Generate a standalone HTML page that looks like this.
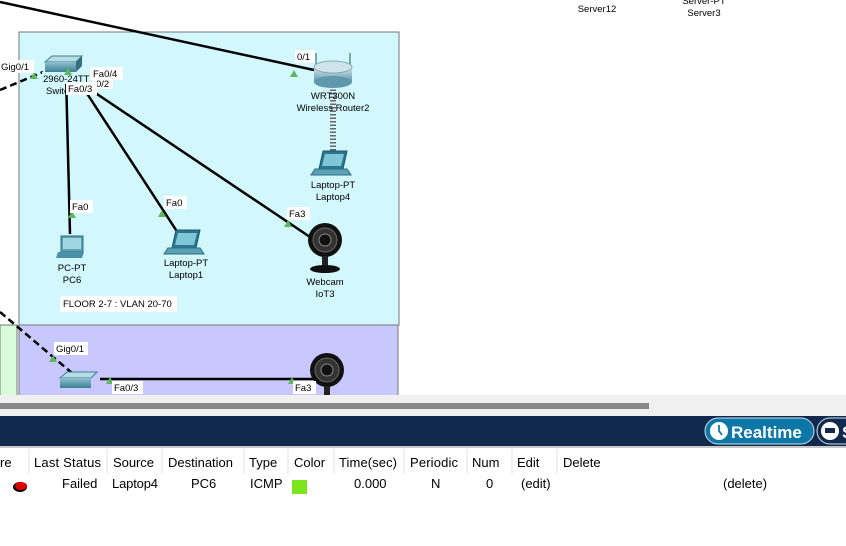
<!DOCTYPE html>
<html><head><meta charset="utf-8"><style>
html,body{margin:0;padding:0;width:846px;height:546px;overflow:hidden;background:#fff;font-family:"Liberation Sans",sans-serif;}
svg text{font-family:"Liberation Sans",sans-serif;}
</style></head><body>
<svg width="846" height="546" viewBox="0 0 846 546" xmlns="http://www.w3.org/2000/svg">
<defs>
<linearGradient id="sw" x1="0" y1="0" x2="0" y2="1"><stop offset="0" stop-color="#8fc2d0"/><stop offset="1" stop-color="#3d7f92"/></linearGradient>
<linearGradient id="rt" x1="0" y1="0" x2="0" y2="1"><stop offset="0" stop-color="#d6e8ee"/><stop offset="1" stop-color="#5e98aa"/></linearGradient>
<g id="cam"><circle cx="0" cy="0" r="17" fill="#111"/><circle cx="0" cy="0" r="12" fill="#333" stroke="#666"/><circle cx="0" cy="0" r="6" fill="#111" stroke="#888"/><rect x="-3" y="16" width="6" height="10" fill="#222"/><ellipse cx="0" cy="29" rx="15" ry="4" fill="#111"/></g>
<g id="lap"><path d="M6,0 H30 L26,18 H2 Z" fill="#2a7890" stroke="#1d5566"/><path d="M8,3 H27 L24,15 H5 Z" fill="#7fc6d8"/><path d="M-2,18 H30 L34,24 H-6 Z" fill="#5aa3b7" stroke="#2f6b7c"/></g>
</defs>
<rect x="19" y="32" width="380" height="293" fill="#d2f7fd" stroke="#777"/>
<rect x="19" y="325" width="379" height="75" fill="#c8c8fe" stroke="#777"/>
<rect x="0" y="325" width="17" height="75" fill="#d9fbd9" stroke="#777"/>
<text x="597" y="12" font-size="9.5" text-anchor="middle">Server12</text>
<text x="704" y="4" font-size="9.5" text-anchor="middle">Server-PT</text>
<text x="704" y="16" font-size="9.5" text-anchor="middle">Server3</text>
<g stroke="#000" stroke-width="2.5" fill="none">
<line x1="0" y1="2" x2="314" y2="70"/>
<line x1="0" y1="90" x2="43" y2="72" stroke-dasharray="7,4"/>
<line x1="66" y1="74" x2="70" y2="234"/>
<line x1="86" y1="92" x2="178" y2="233"/>
<line x1="94" y1="92" x2="310" y2="237"/>
<line x1="0" y1="312" x2="72" y2="373" stroke-dasharray="7,4"/>
<line x1="100" y1="379" x2="318" y2="379"/>
</g>
<line x1="333" y1="86" x2="333" y2="152" stroke="#666" stroke-width="6" stroke-dasharray="1.5,2"/>
<path d="M45,62 L52,56 H82 L76,62 Z" fill="#b6dde6" stroke="#3d7f92"/>
<rect x="45" y="62" width="31" height="10" fill="url(#sw)"/>
<path d="M76,62 L82,56 V66 L76,72 Z" fill="#356f80"/>
<line x1="316" y1="53" x2="316" y2="72" stroke="#7aa" stroke-width="2"/>
<line x1="350" y1="53" x2="350" y2="72" stroke="#7aa" stroke-width="2"/>
<rect x="314" y="67" width="38" height="15" fill="url(#rt)"/>
<ellipse cx="333" cy="82" rx="19" ry="6" fill="#5e98aa"/>
<ellipse cx="333" cy="67" rx="19" ry="6" fill="#cfe4ea" stroke="#8ab"/>
<text x="333" y="99" font-size="9.5" text-anchor="middle">WRT300N</text>
<text x="333" y="111" font-size="9.5" text-anchor="middle">Wireless Router2</text>
<use href="#lap" x="317" y="151"/>
<text x="333" y="188" font-size="9.5" text-anchor="middle">Laptop-PT</text>
<text x="333" y="200" font-size="9.5" text-anchor="middle">Laptop4</text>
<rect x="61" y="236" width="22" height="16" fill="#5aa3b7" stroke="#2f6b7c"/>
<rect x="63" y="238" width="18" height="11" fill="#9fd6e2"/>
<path d="M58,252 H84 L82,258 H56 Z" fill="#4a91a5"/>
<text x="72" y="271" font-size="9.5" text-anchor="middle">PC-PT</text>
<text x="72" y="283" font-size="9.5" text-anchor="middle">PC6</text>
<use href="#lap" x="170" y="230"/>
<text x="186" y="266" font-size="9.5" text-anchor="middle">Laptop-PT</text>
<text x="186" y="278" font-size="9.5" text-anchor="middle">Laptop1</text>
<use href="#cam" x="325" y="240"/>
<text x="325" y="285" font-size="9.5" text-anchor="middle">Webcam</text>
<text x="325" y="297" font-size="9.5" text-anchor="middle">IoT3</text>
<rect x="60" y="296" width="117" height="16" fill="#fff"/>
<text x="63" y="307" font-size="9.5">FLOOR 2-7 : VLAN 20-70</text>
<path d="M60,378 L67,372 H97 L91,378 Z" fill="#b6dde6" stroke="#3d7f92"/>
<rect x="60" y="378" width="31" height="10" fill="url(#sw)"/>
<use href="#cam" x="327" y="370"/>
<rect x="42" y="72" width="44" height="12" fill="#d2f7fd"/>
<text x="43" y="82" font-size="9.5">2960-24TT</text>
<text x="46" y="94" font-size="9.5">Switch</text>
<g fill="#5cb85c">
<path d="M30,79 l4,-7 l4,7z"/><path d="M64,75 l4,-7 l4,7z"/><path d="M290,77 l4,-7 l4,7z"/>
<path d="M68,218 l4,-7 l4,7z"/><path d="M158,217 l4,-7 l4,7z"/><path d="M284,227 l4,-7 l4,7z"/>
<path d="M49,362 l4,-7 l4,7z"/><path d="M106,384 l4,-7 l4,7z"/><path d="M288,384 l4,-7 l4,7z"/>
</g>
<g font-size="9.5">
<rect x="0" y="60" width="34" height="13" fill="#fff"/><text x="1" y="70">Gig0/1</text>
<rect x="93" y="78" width="20" height="11" fill="#fff"/><text x="96" y="87">0/2</text>
<rect x="90" y="67" width="33" height="13" fill="#fff"/><text x="93" y="77">Fa0/4</text>
<rect x="66" y="82" width="31" height="13" fill="#fff"/><text x="68" y="92">Fa0/3</text>
<rect x="295" y="50" width="20" height="13" fill="#fff"/><text x="297" y="60">0/1</text>
<rect x="70" y="200" width="23" height="13" fill="#fff"/><text x="72" y="210">Fa0</text>
<rect x="164" y="196" width="23" height="13" fill="#fff"/><text x="166" y="206">Fa0</text>
<rect x="287" y="207" width="23" height="13" fill="#fff"/><text x="289" y="217">Fa3</text>
<rect x="54" y="342" width="34" height="13" fill="#fff"/><text x="56" y="352">Gig0/1</text>
<rect x="112" y="381" width="31" height="13" fill="#fff"/><text x="114" y="391">Fa0/3</text>
<rect x="293" y="381" width="23" height="13" fill="#fff"/><text x="295" y="391">Fa3</text>
</g>
<rect x="0" y="395" width="846" height="21" fill="#f0f0f0"/>
<rect x="0" y="403" width="649" height="6" fill="#888"/>
<rect x="0" y="416" width="846" height="30" fill="#10294c"/>
<rect x="0" y="446" width="846" height="2" fill="#c8c8c8"/>
<rect x="705" y="418" width="109" height="26" rx="13" fill="#0d78a8" stroke="#cfe4ee"/>
<circle cx="719" cy="431" r="9" fill="#fff"/><path d="M719,425 V431 L722,435" stroke="#0d78a8" stroke-width="1.8" fill="none"/>
<text x="731" y="438" font-size="17" font-weight="bold" fill="#fff">Realtime</text>
<rect x="817" y="418" width="40" height="26" rx="13" fill="#10294c" stroke="#cfe4ee"/>
<circle cx="830" cy="431" r="9" fill="#fff"/><rect x="825" y="428" width="10" height="5" fill="#10294c"/>
<text x="842" y="438" font-size="17" font-weight="bold" fill="#fff">S</text>
<g stroke="#e2e2e2" stroke-width="1">
<line x1="29" y1="449" x2="29" y2="474"/><line x1="107" y1="449" x2="107" y2="474"/><line x1="162" y1="449" x2="162" y2="474"/>
<line x1="244" y1="449" x2="244" y2="474"/><line x1="288" y1="449" x2="288" y2="474"/><line x1="334" y1="449" x2="334" y2="474"/>
<line x1="404" y1="449" x2="404" y2="474"/><line x1="467" y1="449" x2="467" y2="474"/><line x1="512" y1="449" x2="512" y2="474"/>
<line x1="557" y1="449" x2="557" y2="474"/>
</g>
<g font-size="13" fill="#000">
<text x="0" y="467">re</text><text x="34" y="467" textLength="67">Last Status</text><text x="113" y="467" textLength="41">Source</text>
<text x="168" y="467" textLength="65">Destination</text><text x="249" y="467">Type</text><text x="294" y="467">Color</text>
<text x="339" y="467" textLength="58">Time(sec)</text><text x="410" y="467" textLength="48">Periodic</text><text x="472" y="467">Num</text>
<text x="517" y="467">Edit</text><text x="563" y="467">Delete</text>
<text x="62" y="488">Failed</text><text x="112" y="488" textLength="46">Laptop4</text><text x="191" y="488">PC6</text>
<text x="250" y="488">ICMP</text><text x="354" y="488">0.000</text><text x="431" y="488">N</text>
<text x="486" y="488">0</text><text x="521" y="488">(edit)</text><text x="723" y="488">(delete)</text>
</g>
<ellipse cx="20" cy="487" rx="7" ry="5" fill="#000"/>
<ellipse cx="21" cy="486" rx="6" ry="4" fill="#d00"/>
<rect x="292" y="480" width="15" height="14" fill="#7ce61c"/>
</svg>
</body></html>
